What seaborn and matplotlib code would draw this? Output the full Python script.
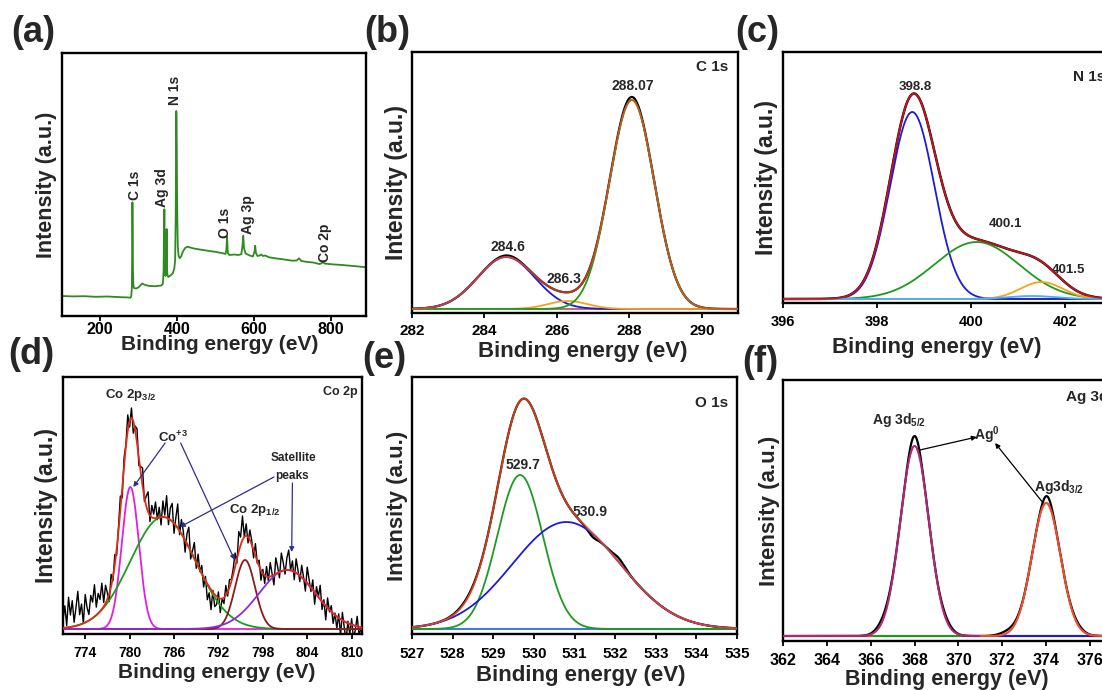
import numpy as np
import matplotlib
matplotlib.use("Agg")
import matplotlib.pyplot as plt
import seaborn as sns

# ---------------- DATA ----------------
# (a) survey spectrum (binding energy, intensity a.u.)
survey_be = [102, 130, 160, 190, 220, 250, 270, 280, 282, 283.5, 284.5, 285, 285.7, 286.5, 287.5, 289,
             295, 302, 310, 318, 330, 345, 360, 364, 366, 367, 368, 368.8, 369.6, 371, 372.8, 373.5,
             374, 374.6, 375.5, 378, 384, 390, 394, 396, 397.5, 398.4, 399, 399.6, 400.3, 401, 402,
             403, 405, 408, 412, 416, 422, 428, 435, 445, 460, 480, 500, 520, 527, 529, 531, 533,
             537, 550, 560, 568, 571, 573, 575, 579, 590, 598, 602, 604, 606, 610, 616, 620, 624,
             630, 640, 660, 680, 700, 712, 718, 724, 740, 755, 770, 776, 780, 784, 795, 810, 830,
             850, 870, 892]
survey_int = [20.0, 19.6, 19.8, 19.2, 19.5, 18.9, 18.6, 18.3, 20, 28, 70, 113.7, 80, 45, 31, 28,
              27.5, 29, 32.5, 31, 30, 29.8, 30.5, 32, 45, 80, 106.7, 75, 44, 40, 55, 75,
              87, 62, 42, 39, 40.5, 42.7, 48, 56, 100, 170, 205, 196, 170, 122, 90,
              69, 60, 57.7, 60, 64.3, 68, 69.3, 68.5, 67.5, 66.5, 65.3, 64.2, 62.7, 62, 66, 79.3, 63,
              61, 61.5, 61, 61.8, 70, 80.3, 68, 62.5, 60.5, 59.5, 64, 70.3, 63, 60, 60.5, 61.5, 60,
              60.5, 58.7, 57.5, 56.5, 55.3, 55.5, 57.7, 55, 54, 53.5, 52, 52.5, 54.3, 52.5, 52, 51.5, 51,
              50.3, 49.6, 48.7]
survey_labels = ["C 1s", "Ag 3d", "N 1s", "O 1s", "Ag 3p", "Co 2p"]
survey_label_be = [291.7, 361, 395.7, 525.6, 586, 785.5]
survey_label_int = [131, 128, 226, 93, 101, 73]

# (b) C 1s fit components
c1s_center = [284.6, 286.3, 288.07]
c1s_height = [52, 8, 209]
c1s_sigma = [0.79, 0.55, 0.62]
c1s_base = 4
c1s_raw_center = [288.05, 284.65]
c1s_raw_height = [3, 1.5]
c1s_raw_sigma = [0.3, 0.3]
c1s_labels = ["284.6", "286.3", "288.07"]
c1s_label_be = [284.64, 286.2, 288.1]
c1s_label_int = [66, 34, 227]

# (c) N 1s fit components
n1s_center = [398.75, 400.12, 401.5, 401.3]
n1s_height = [187, 57, 17, 3]
n1s_sigma = [0.47, 0.9, 0.45, 0.5]
n1s_base = 4
n1s_labels = ["398.8", "400.1", "401.5"]
n1s_label_be = [398.82, 400.73, 402.08]
n1s_label_int = [216, 79, 33]

# (d) Co 2p fit components
co_center = [780.1, 784.5, 795.6, 801.3]
co_height = [142, 112, 69, 59]
co_sigma = [1.15, 4.4, 1.35, 3.8]
co_base = 5
co_start, co_step = 771.0, 0.25
co_residual = [8, 22, 2, 30, 12, 26, 4, 18, 34, 10, 20, 0, 28, 14, 6, 24, 16, 32, 8, 20, 12, 26, 4, 18,
               6, -8, 12, -4, 10, -6, 4, 14, -10, 8, 2, 16,
               -6, 10, -12, 4, 14, -8, 6, 18, -4, 10, 20, -6, 12, 4, 16, -2,
               10, -8, 16, 2, 22, -6, 12, 18, -10, 8, 24, -4, 14, 6, -12, 10, 20, -8, 4, 16, -6, 12, -2, 8,
               -10, 4, -16, -6, -20, 2, -12, -8, 6, -14, 0, -6, 10, -4, 8, 2,
               6, 14, -4, 20, 8, 24, 0, 12, -6, 10, 4, -8, 12, -2, 6, -10,
               4, -8, 10, -4, 14, 2, -10, 16, 6, -6, 18, 8, -4, 12, 20, 0, 10, -8, 14, 4,
               -6, 12, 2, -10, 16, 6, -4, 10, -12, 8, 0, 14, -8, 4, -14, 10, -2, 6, -10, 2,
               -12, 4, -16, 8, -6, -18, 2, -10, 6, -14, -4, 10, -8, -2]

# (e) O 1s fit components
o1s_center = [529.66, 530.8]
o1s_height = [154, 107]
o1s_sigma = [0.56, 1.33]
o1s_base = 5
o1s_raw_center = [531.45, 532.1, 528.4]
o1s_raw_height = [-4, 4, 1.5]
o1s_raw_sigma = [0.12, 0.14, 0.3]
o1s_labels = ["529.7", "530.9"]
o1s_label_be = [529.73, 531.39]
o1s_label_int = [169, 122]

# (f) Ag 3d fit components
ag_center = [368.0, 374.0]
ag_height = [190, 133]
ag_sigma = [0.65, 0.65]
ag_base = 5
ag_raw_center = [368.0, 374.05, 366.6, 369.4, 372.3, 375.4]
ag_raw_height = [10, 7, 4, 3, 3, 2]
ag_raw_sigma = [0.22, 0.22, 0.35, 0.3, 0.4, 0.3]

# ---------------- STYLE ----------------
sns.set_theme(style="white")
plt.rcParams["font.family"] = ["Liberation Sans", "DejaVu Sans"]
plt.rcParams["font.weight"] = "bold"
plt.rcParams["mathtext.fontset"] = "custom"
plt.rcParams["mathtext.rm"] = "Liberation Sans:bold"
plt.rcParams["mathtext.it"] = "Liberation Sans:bold"
plt.rcParams["mathtext.bf"] = "Liberation Sans:bold"
plt.rcParams["mathtext.default"] = "rm"

W, H = 1102, 690
fig = plt.figure(figsize=(W / 100, H / 100), dpi=100, facecolor="white")


def gauss(x, c, h, s):
    return h * np.exp(-0.5 * ((x - c) / s) ** 2)


def line(ax, x, y, color, lw=1.3, alpha=1.0, z=2):
    sns.lineplot(x=np.asarray(x), y=np.asarray(y), ax=ax, color=color, lw=lw, alpha=alpha,
                 estimator=None, sort=False, legend=False, zorder=z)


def make_ax(box):
    l, r, t, b = box
    return fig.add_axes([l / W, 1 - b / H, (r - l) / W, (b - t) / H])


def style(ax, box, xlim, ylim, xticks, tick_fs, pad, xl_fs, yl_fs, xl_px, xl_py, yl_px):
    l, r, t, b = box
    ax.set_xlim(xlim)
    ax.set_ylim(ylim)
    ax.set_xticks(xticks)
    ax.set_xticklabels([str(v) for v in xticks], fontsize=tick_fs, fontweight="bold")
    ax.set_yticks([])
    ax.tick_params(axis="x", direction="out", length=3.5, width=1.3, pad=pad, bottom=True, colors="black")
    for s in ax.spines.values():
        s.set_visible(True)
        s.set_linewidth(1.7)
        s.set_color("black")
    ax.set_xlabel("Binding energy (eV)", fontsize=xl_fs, fontweight="bold")
    ax.set_ylabel("Intensity (a.u.)", fontsize=yl_fs, fontweight="bold")
    ax.xaxis.label.set_va("center")
    ax.yaxis.label.set_va("center")
    ax.xaxis.set_label_coords((xl_px - l) / (r - l), -(xl_py - b) / (b - t))
    ax.yaxis.set_label_coords((yl_px - l) / (r - l), 0.5)
    ax.set_facecolor("white")


BLUE = "#1c1cd6"
GREEN = "#1f9a1f"
ORANGE = "#f5a21e"
ENV = "#ec4a22"
ARROW = "#2d2d8f"

# ---------------- (a) survey ----------------
box_a = (62, 366, 53, 316)
ax = make_ax(box_a)
line(ax, survey_be, survey_int, "#2f8a20", lw=1.3)
for lab, xb, yb in zip(survey_labels, survey_label_be, survey_label_int):
    ax.text(xb, yb, lab, rotation=90, ha="center", va="center", fontsize=10, fontweight="bold")
style(ax, box_a, (102, 892), (0, 263), [200, 400, 600, 800], 11.5, 1.0, 15, 15.5, 220, 345, 47)

# ---------------- (b) C 1s ----------------
box_b = (412, 738, 52, 313)
ax = make_ax(box_b)
xb_ = np.linspace(282, 291, 500)
comps = [gauss(xb_, c, h, s) for c, h, s in zip(c1s_center, c1s_height, c1s_sigma)]
env = c1s_base + np.sum(comps, axis=0)
raw = env + np.sum([gauss(xb_, c, h, s) for c, h, s in zip(c1s_raw_center, c1s_raw_height, c1s_raw_sigma)], axis=0)
line(ax, xb_, np.full_like(xb_, c1s_base), "#b87070", lw=1.5, z=1)
line(ax, xb_, raw, "black", lw=1.6, z=2)
for comp, col in zip(comps, [BLUE, ORANGE, GREEN]):
    line(ax, xb_, c1s_base + comp, col, lw=1.3, z=3)
line(ax, xb_, env, ENV, lw=1.4, alpha=0.8, z=4)
for lab, xx, yy in zip(c1s_labels, c1s_label_be, c1s_label_int):
    ax.text(xx, yy, lab, ha="center", va="center", fontsize=10, fontweight="bold")
ax.text(0.969, 0.943, "C 1s", transform=ax.transAxes, ha="right", va="center", fontsize=11, fontweight="bold")
style(ax, box_b, (282, 291), (0, 261), [282, 284, 286, 288, 290], 11, 4.3, 16, 16.5, 583, 351, 397)

# ---------------- (c) N 1s ----------------
box_c = (783, 1112, 52, 303)
ax = make_ax(box_c)
xc_ = np.linspace(396, 403, 500)
comps = [gauss(xc_, c, h, s) for c, h, s in zip(n1s_center, n1s_height, n1s_sigma)]
env = n1s_base + np.sum(comps, axis=0)
line(ax, xc_, np.full_like(xc_, n1s_base), "#b08060", lw=1.4, z=1)
line(ax, xc_, env, "black", lw=1.8, z=2)
for comp, col in zip(comps, [BLUE, GREEN, ORANGE, "#40b0ff"]):
    line(ax, xc_, n1s_base + comp, col, lw=1.3, z=3)
line(ax, xc_, env, "#c8141e", lw=1.3, z=4)
for lab, xx, yy in zip(n1s_labels, n1s_label_be, n1s_label_int):
    ax.text(xx, yy, lab, ha="center", va="center", fontsize=9.5, fontweight="bold")
ax.text(0.98, 0.90, "N 1s", transform=ax.transAxes, ha="right", va="center", fontsize=11, fontweight="bold")
style(ax, box_c, (396, 403), (0, 251), [396, 398, 400, 402], 10.5, 5.2, 16, 16.5, 937, 347, 767)

# ---------------- (d) Co 2p ----------------
box_d = (63, 362, 377, 634)
ax = make_ax(box_d)
xd_ = np.linspace(771, 811.4, 600)
comps = [gauss(xd_, c, h, s) for c, h, s in zip(co_center, co_height, co_sigma)]
env = co_base + np.sum(comps, axis=0)
xraw = co_start + co_step * np.arange(len(co_residual))
env_raw = co_base + np.sum([gauss(xraw, c, h, s) for c, h, s in zip(co_center, co_height, co_sigma)], axis=0)
line(ax, xraw, env_raw + np.array(co_residual), "black", lw=1.0, z=2)
for comp, col in zip(comps, ["#e020e0", "#18a018", "#8b1a1a", "#8a2be2"]):
    line(ax, xd_, co_base + comp, col, lw=1.3, z=3)
line(ax, xd_, env, "#e02a1a", lw=1.3, z=4)
ax.text(780.2, 239, r"Co 2p$_{3/2}$", ha="center", va="center", fontsize=9.5, fontweight="bold")
ax.text(785.9, 197, r"Co$^{+3}$", ha="center", va="center", fontsize=9.5, fontweight="bold")
ax.text(802.1, 176, "Satellite", ha="center", va="center", fontsize=8.5, fontweight="bold")
ax.text(802.0, 157.5, "peaks", ha="center", va="center", fontsize=8.5, fontweight="bold")
ax.text(796.9, 124, r"Co 2p$_{1/2}$", ha="center", va="center", fontsize=9.5, fontweight="bold")
ax.text(0.987, 0.943, "Co 2p", transform=ax.transAxes, ha="right", va="center", fontsize=9, fontweight="bold")
arrows_d = [((784.8, 191), (780.5, 147)), ((786.9, 191), (794.2, 74)),
            ((799.5, 157), (786.8, 107)), ((802.0, 151), (801.9, 82))]
for (x0, y0), (x1, y1) in arrows_d:
    ax.annotate("", xy=(x1, y1), xytext=(x0, y0),
                arrowprops=dict(arrowstyle="-|>", color=ARROW, lw=0.9, mutation_scale=7,
                                shrinkA=0, shrinkB=0), zorder=6)
style(ax, box_d, (771, 811.4), (0, 257), [774, 780, 786, 792, 798, 804, 810], 10, 5.4, 15, 16.5, 217, 672, 47)

# ---------------- (e) O 1s ----------------
box_e = (412, 737, 377, 634)
ax = make_ax(box_e)
xe_ = np.linspace(527, 535, 500)
comps = [gauss(xe_, c, h, s) for c, h, s in zip(o1s_center, o1s_height, o1s_sigma)]
env = o1s_base + np.sum(comps, axis=0)
raw = env + np.sum([gauss(xe_, c, h, s) for c, h, s in zip(o1s_raw_center, o1s_raw_height, o1s_raw_sigma)], axis=0)
line(ax, xe_, np.full_like(xe_, o1s_base), "#3a7fe0", lw=1.5, z=1)
line(ax, xe_, raw, "black", lw=1.6, z=2)
for comp, col in zip(comps, [GREEN, BLUE]):
    line(ax, xe_, o1s_base + comp, col, lw=1.3, z=3)
line(ax, xe_, env, ENV, lw=1.4, alpha=0.85, z=4)
for lab, xx, yy in zip(o1s_labels, o1s_label_be, o1s_label_int):
    ax.text(xx, yy, lab, ha="center", va="center", fontsize=10, fontweight="bold")
ax.text(0.972, 0.898, "O 1s", transform=ax.transAxes, ha="right", va="center", fontsize=11, fontweight="bold")
style(ax, box_e, (527, 535), (0, 257), list(range(527, 536)), 11, 5.5, 16, 16, 581, 676, 397)

# ---------------- (f) Ag 3d ----------------
box_f = (783, 1112, 380, 641)
ax = make_ax(box_f)
xf_ = np.linspace(362, 377, 600)
comps = [gauss(xf_, c, h, s) for c, h, s in zip(ag_center, ag_height, ag_sigma)]
env = ag_base + np.sum(comps, axis=0)
raw = env + np.sum([gauss(xf_, c, h, s) for c, h, s in zip(ag_raw_center, ag_raw_height, ag_raw_sigma)], axis=0)
line(ax, xf_, np.full_like(xf_, ag_base), "#e83a30", lw=1.5, z=1)
m1 = (xf_ >= 366) & (xf_ <= 371)
m2 = xf_ >= 371.8
line(ax, xf_[m1], np.full(m1.sum(), ag_base), GREEN, lw=1.5, z=1.5)
line(ax, xf_[m2], np.full(m2.sum(), ag_base), BLUE, lw=1.5, z=1.5)
line(ax, xf_, raw, "black", lw=1.6, z=2)
line(ax, xf_, env, "#e8202a", lw=1.4, z=3)
line(ax, xf_[xf_ < 371], (ag_base + comps[0])[xf_ < 371], "#7a30c8", lw=1.3, alpha=0.6, z=4)
line(ax, xf_[xf_ > 371], (ag_base + comps[1])[xf_ > 371], "#f06a2a", lw=1.3, alpha=0.7, z=4)
ax.text(367.3, 221, r"Ag 3d$_{5/2}$", ha="center", va="center", fontsize=10, fontweight="bold")
ax.text(371.3, 206, r"Ag$^{0}$", ha="center", va="center", fontsize=10, fontweight="bold")
ax.text(374.6, 154, r"Ag3d$_{3/2}$", ha="center", va="center", fontsize=10, fontweight="bold")
ax.text(0.988, 0.936, "Ag 3d", transform=ax.transAxes, ha="right", va="center", fontsize=11, fontweight="bold")
for (x0, y0), (x1, y1) in [((368.24, 191), (370.83, 204)), ((373.86, 138), (371.67, 198))]:
    ax.annotate("", xy=(x1, y1), xytext=(x0, y0),
                arrowprops=dict(arrowstyle="-|>", color="black", lw=0.9, mutation_scale=7,
                                shrinkA=0, shrinkB=0), zorder=6)
style(ax, box_f, (362, 377), (0, 261), list(range(362, 377, 2)), 11.5, 5.0, 15.5, 16, 947, 680, 770)

# ---------------- panel letters ----------------
for lab, (px, py) in zip(["(a)", "(b)", "(c)", "(d)", "(e)", "(f)"],
                         [(33, 32), (387, 33), (757, 32), (31, 355), (384, 358), (760, 362)]):
    fig.text(px / W, 1 - py / H, lab, fontsize=26, fontweight="bold", ha="center", va="center")

fig.savefig("out.png", dpi=100, facecolor="white")
